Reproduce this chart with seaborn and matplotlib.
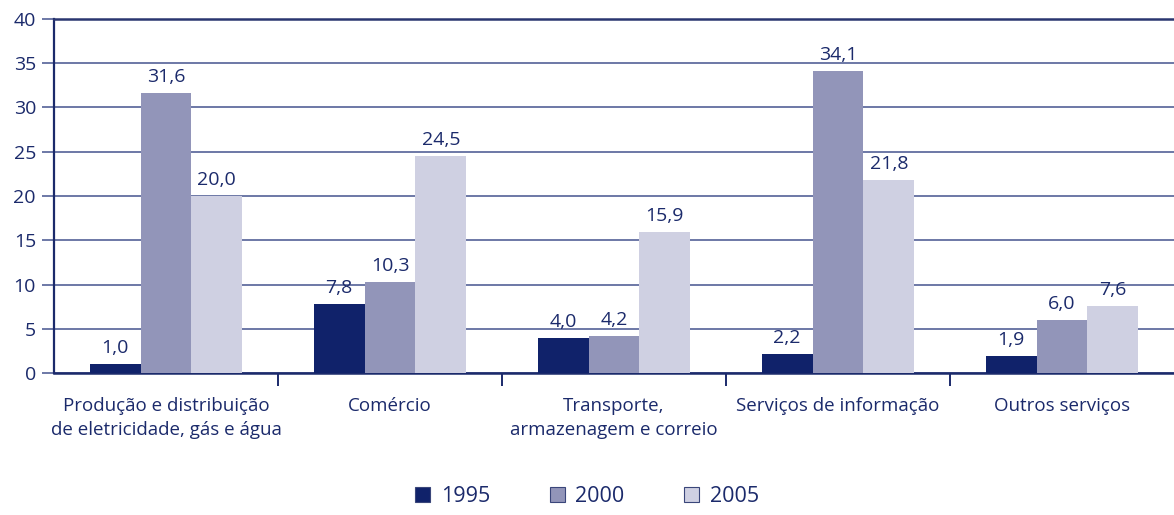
import matplotlib
matplotlib.use("Agg")
import matplotlib.pyplot as plt
import seaborn as sns
import pandas as pd
from matplotlib.patches import Patch

categories = ["Produção e distribuição\nde eletricidade, gás e água",
              "Comércio",
              "Transporte,\narmazenagem e correio",
              "Serviços de informação",
              "Outros serviços"]
years = ["1995", "2000", "2005"]
v1995 = [1.0, 7.8, 4.0, 2.2, 1.9]
v2000 = [31.6, 10.3, 4.2, 34.1, 6.0]
v2005 = [20.0, 24.5, 15.9, 21.8, 7.6]
colors = ["#10226a", "#9295b9", "#cfd0e2"]
text_color = "#1b2a6b"
grid_color = "#6c78a6"

rows = []
for y, vals in zip(years, [v1995, v2000, v2005]):
    for c, v in zip(categories, vals):
        rows.append({"cat": c, "year": y, "val": v})
df = pd.DataFrame(rows)

sns.set_theme(style="white")
plt.rcParams["font.family"] = ["Open Sans", "DejaVu Sans"]

fig = plt.figure(figsize=(11.74, 5.15), dpi=100)
ax = fig.add_axes([54/1174, (515-373)/515, 1 - 54/1174, (373-19)/515])

sns.barplot(data=df, x="cat", y="val", hue="year", palette=colors,
            width=0.68, ax=ax, legend=False, saturation=1, zorder=3,
            linewidth=0)

for cont in ax.containers:
    labels = [f"{b.get_height():.1f}".replace(".", ",") for b in cont]
    ax.bar_label(cont, labels=labels, padding=5, fontsize=14, color=text_color)

ax.set_ylim(0, 40)
ax.set_xlim(-0.5, 4.5)
ax.set_yticks(range(0, 41, 5))
ax.yaxis.grid(True, color=grid_color, linewidth=1.4, zorder=0)
ax.set_axisbelow(True)
ax.set_xlabel("")
ax.set_ylabel("")

ax.spines["right"].set_visible(False)
ax.spines["top"].set_color("#2a3670")
ax.spines["top"].set_linewidth(1.8)
ax.spines["left"].set_color("#1b2a6b")
ax.spines["left"].set_linewidth(1.6)
ax.spines["bottom"].set_color("#1b2a6b")
ax.spines["bottom"].set_linewidth(1.8)

ax.tick_params(axis="y", length=9, width=1.4, color=grid_color,
               labelsize=14, labelcolor=text_color, pad=4, left=True)
ax.set_xticks(range(5))
ax.set_xticklabels(categories, fontsize=13.5, color=text_color, linespacing=1.45)
ax.tick_params(axis="x", length=0, pad=17)
ax.set_xticks([0.5, 1.5, 2.5, 3.5], minor=True)
ax.tick_params(axis="x", which="minor", length=9, width=1.4, color="#1b2a6b",
               bottom=True)

handles = [Patch(facecolor=c, edgecolor="#3a467a", linewidth=0.8, label=y)
           for c, y in zip(colors, years)]
fig.legend(handles=handles, loc="lower center", bbox_to_anchor=(0.5, -0.022),
           ncol=3, frameon=False, fontsize=15.5, handlelength=0.7,
           handleheight=0.7, handletextpad=0.5, columnspacing=2.75,
           labelcolor=text_color)

fig.savefig("out.png", dpi=100)
